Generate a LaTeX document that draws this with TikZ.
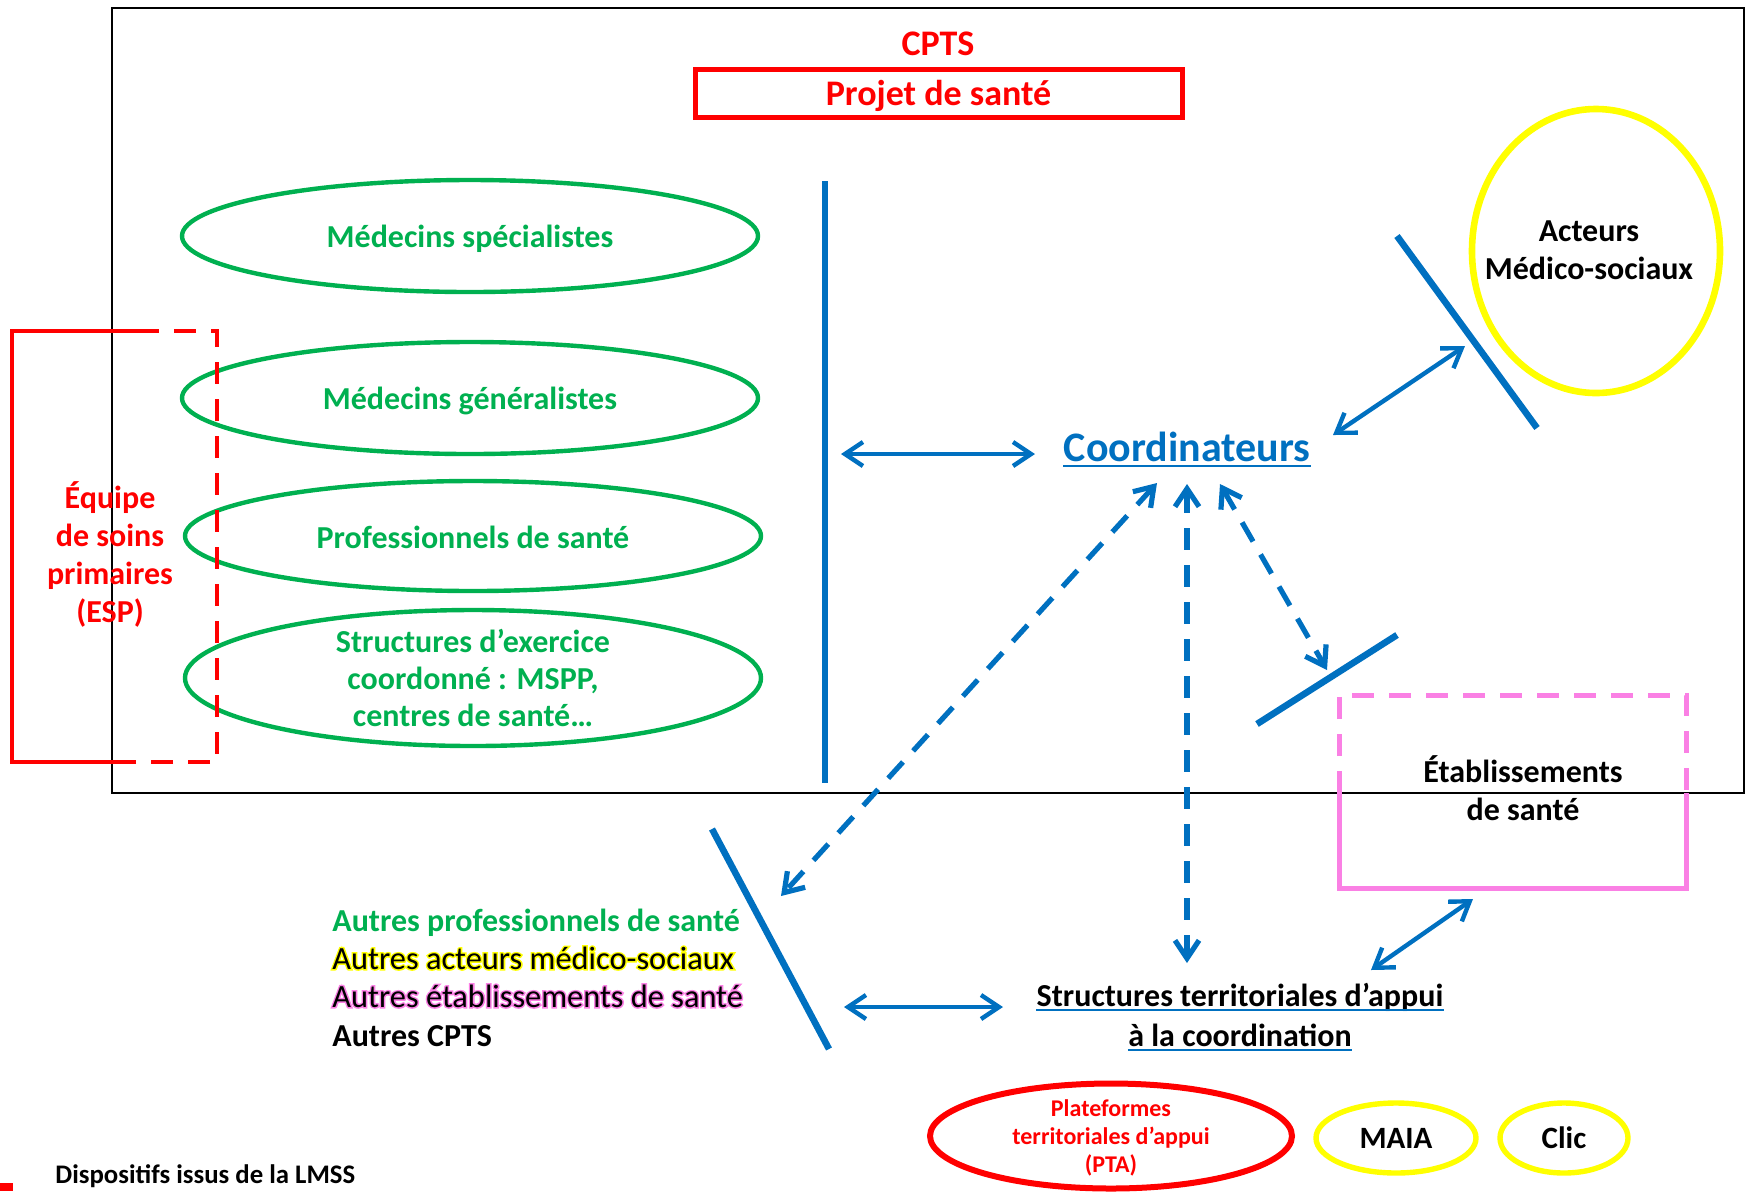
\documentclass[tikz,border=0pt]{standalone}
\usepackage{fontspec}
\setmainfont{Carlito}
\newfontfamily\glowfont{Carlito}[FakeBold=9]
\usetikzlibrary{arrows.meta,shapes.geometric}
\definecolor{cred}{RGB}{255,0,0}
\definecolor{cgreen}{RGB}{0,176,80}
\definecolor{cblue}{RGB}{0,112,192}
\definecolor{cyellow}{RGB}{255,255,0}
\definecolor{cpink}{RGB}{250,128,228}
\newcommand\glowtxt[2]{\leavevmode\rlap{\glowfont\color{#1}#2}#2}
\tikzset{
  fr/.style={draw=black,line width=1.2pt},
  ell/.style={ellipse,inner sep=0pt,draw=cgreen,line width=2.2pt,minimum width=288pt},
  tx/.style={inner sep=0pt,align=center,font=\bfseries\fontsize{16pt}{19pt}\selectfont},
  gtxt/.style={tx,text=cgreen},
  bline/.style={draw=cblue,line width=3.3pt},
  barr/.style={draw=cblue,line width=2.2pt,>={Straight Barb[length=9pt,width=12pt]},<->},
  bdash/.style={barr,line width=2.6pt,dash pattern=on 11pt off 7.5pt},
  redl/.style={draw=cred,line width=2.4pt},
  pinkl/.style={draw=cpink,line width=2.5pt},
  dsh/.style={dash pattern=on 11pt off 7.5pt},
}
\begin{document}
\begin{tikzpicture}[x=0.5pt,y=-0.5pt]
\useasboundingbox (0,0) rectangle (1752,1191);
% frame
\draw[fr] (112,8) rectangle (1744,793);
% title
\node[tx,text=cred,font=\bfseries\fontsize{18pt}{21pt}\selectfont] (cpts) at (938,44) {CPTS};
\node[draw=cred,line width=2.5pt,minimum width=243.5pt,minimum height=24pt,inner sep=0pt] (proj) at (938.5,93) {};
\node[tx,text=cred,font=\bfseries\fontsize{18pt}{21pt}\selectfont] (projt) at (938.5,95.5) {Projet de santé};
% green ellipses
\node[ell,minimum height=56pt] (e1) at (470,236) {};
\node[gtxt] (t1) at (470,238.5) {Médecins spécialistes};
\node[ell,minimum height=56pt] (e2) at (470,398) {};
\node[gtxt] (t2) at (470,400.5) {Médecins généralistes};
\node[ell,minimum height=55pt] (e3) at (473,536) {};
\node[gtxt] (t3) at (473,537.5) {Professionnels de santé};
\node[ell,minimum height=68pt] (e4) at (473,678) {};
\node[gtxt,font=\bfseries\fontsize{16pt}{18.5pt}\selectfont] (t4) at (e4) {Structures d’exercice\\coordonné : MSPP,\\centres de santé…};
% ESP
\draw[redl] (137,331) -- (12,331) -- (12,762) -- (132,762);
\draw[redl,dsh] (137,331) -- (217,331) -- (217,762) -- (132,762);
\node[tx,text=cred] (esp) at (110,554) {Équipe\\de soins\\primaires\\(ESP)};
% vertical line
\coordinate (vtop) at (825,181);
\coordinate (vbot) at (825,783);
\draw[bline] (vtop) -- (vbot);
% Coordinateurs
\node[tx,text=cblue,font=\bfseries\fontsize{21pt}{24pt}\selectfont] (coord) at (1187,447) {Coordinateurs};
\draw[draw=cblue,line width=1.2pt] ([yshift=-2.2pt]coord.base west) -- ([yshift=-2.2pt]coord.base east);
\coordinate (va) at (841,454);
\coordinate (ca) at (1035,454);
\draw[barr] (va) -- (ca);
% Acteurs medico-sociaux
\node[ellipse,inner sep=0pt,draw=cyellow,line width=3.3pt,minimum width=124pt,minimum height=142pt] (am) at (1596,251) {};
\node[tx] (amt) at (1589,250) {Acteurs\\Médico-sociaux};
\coordinate (sa1) at (1397,236);
\coordinate (sa2) at (1537,428);
\draw[bline] (sa1) -- (sa2);
\coordinate (cb) at (1333,435);
\coordinate (sb) at (1465,346);
\draw[barr] (cb) -- (sb);
% lower slash
\coordinate (sl1) at (1257,724);
\coordinate (sl2) at (1397,635);
\draw[bline] (sl1) -- (sl2);
% dashed arrows
\coordinate (cr) at (1220,484);
\coordinate (slr) at (1327,670);
\draw[bdash] (cr) -- (slr);
\coordinate (cm) at (1187,484);
\coordinate (sm) at (1187,963);
\draw[bdash] (cm) -- (sm);
\coordinate (cl) at (1157,483);
\coordinate (al) at (781,896);
\draw[bdash] (cl) -- (al);
% Autres slash
\coordinate (as1) at (712,829);
\coordinate (as2) at (829,1049);
\draw[bline] (as1) -- (as2);
\coordinate (aa) at (844,1007);
\coordinate (sa) at (1003,1007);
\draw[barr] (aa) -- (sa);
% Etablissements
\draw[pinkl] (1339,793) -- (1339,888) -- (1686,888) -- (1686,793);
\draw[pinkl,dsh] (1339,793) -- (1339,695) -- (1686,695) -- (1686,793);
\node[tx] (etab) at (1523,788) {Établissements\\de santé};
\coordinate (se) at (1371,970);
\coordinate (eb) at (1473,899);
\draw[barr] (se) -- (eb);
% Structures
\node[tx] (st1) at (1240,997) {Structures territoriales d’appui};
\node[tx] (st2) at (1240,1035) {à la coordination};
\draw[draw=cblue,line width=1.3pt] ([yshift=-2pt]st1.base west) -- ([yshift=-2pt]st1.base east);
\draw[draw=cblue,line width=1.3pt] ([yshift=-2pt]st2.base west) -- ([yshift=-2pt]st2.base east);
% Autres list
\node[tx,anchor=west,text=cgreen] (au1) at (332,923) {Autres professionnels de santé};
\node[tx,anchor=west,font=\mdseries\fontsize{16.2pt}{19pt}\selectfont] (au2) at (332,958) {\glowtxt{cyellow}{Autres acteurs médico-sociaux}};
\node[tx,anchor=west,font=\mdseries\fontsize{16.2pt}{19pt}\selectfont] (au3) at (332,996) {\glowtxt{cpink}{Autres établissements de santé}};
\node[tx,anchor=west] (au4) at (332,1036) {Autres CPTS};
% bottom ellipses
\node[ellipse,inner sep=0pt,draw=cred,line width=3pt,minimum width=181pt,minimum height=52.5pt] (pta) at (1111,1136) {};
\node[tx,text=cred,font=\bfseries\fontsize{12pt}{14pt}\selectfont] (ptat) at (1111,1138) {Plateformes\\territoriales d’appui\\(PTA)};
\node[ellipse,inner sep=0pt,draw=cyellow,line width=2.7pt,minimum width=80pt,minimum height=35pt] (maia) at (1396,1138) {};
\node[tx,font=\bfseries\fontsize{15.5pt}{18pt}\selectfont] (maiat) at (maia) {MAIA};
\node[ellipse,inner sep=0pt,draw=cyellow,line width=2.7pt,minimum width=64pt,minimum height=35pt] (clic) at (1564,1138) {};
\node[tx,font=\bfseries\fontsize{15.5pt}{18pt}\selectfont] (clict) at (clic) {Clic};
% legend
\fill[cred] (0,1183) rectangle (13,1191);
\node[tx,anchor=west,font=\bfseries\fontsize{13.4pt}{15pt}\selectfont] (leg) at (55,1176) {Dispositifs issus de la LMSS};
\end{tikzpicture}
\end{document}
